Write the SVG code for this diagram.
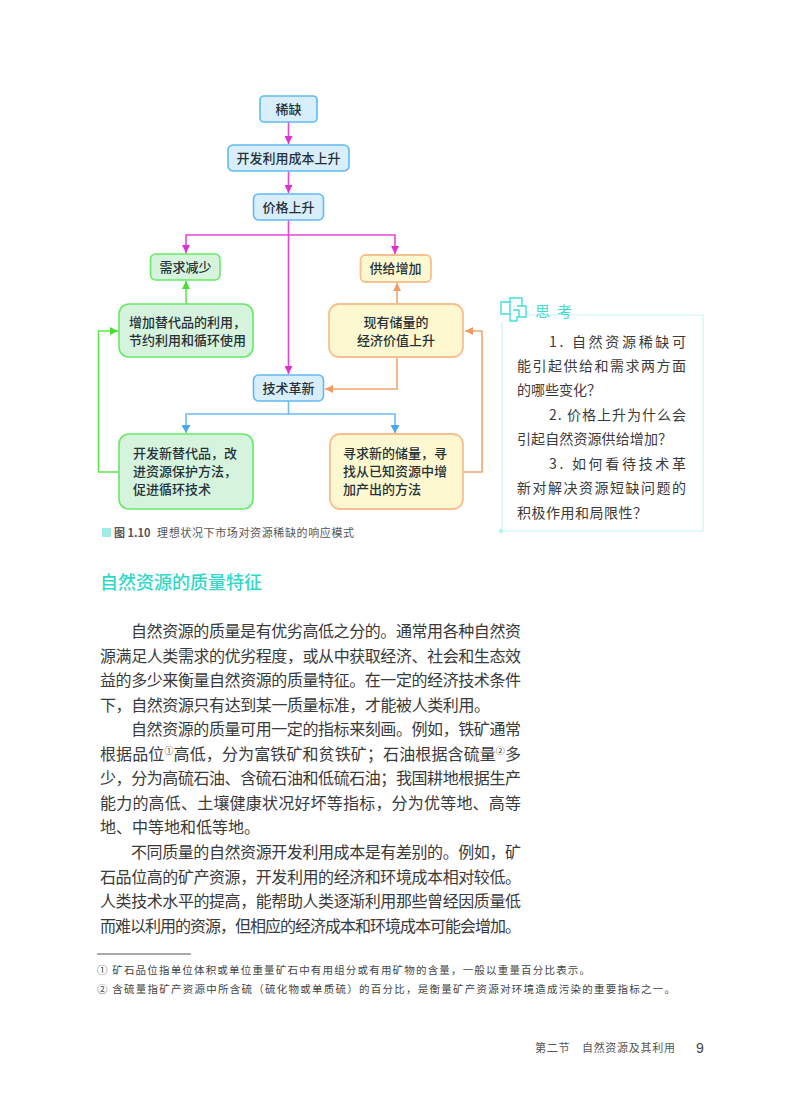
<svg xmlns="http://www.w3.org/2000/svg" width="800" height="1118" viewBox="0 0 800 1118">
<style>
text{font-family:"Noto Sans CJK SC","Noto Sans CJK JP",sans-serif}
.n{font-size:13px;font-weight:500;text-anchor:middle;fill:#263238}
.l{font-size:13px;font-weight:500;fill:#263238}
.b{font-size:16px;fill:#3a3a3a}
.q{font-size:14px;fill:#3a3a3a}
.f{font-size:10.5px;fill:#444}
.cap{font-size:11px;fill:#555}
.pg{font-size:11px;fill:#555}
.head{font-size:18px;font-weight:500;fill:#2fd8c8}
.think{font-size:15px;fill:#3fdcd4}
.blue{fill:#d8eefa;stroke:#5fbaf0;stroke-width:1.6}
.green{fill:#d6f3de;stroke:#66ea66;stroke-width:1.6}
.orange{fill:#fdf8cf;stroke:#f8bf90;stroke-width:1.8}
.c{fill:none;stroke-width:1.6}
.pk{stroke:#e548d8}.gr{stroke:#62e650}.or{stroke:#f5a56e}.bl{stroke:#6cbcf2}
</style>
<defs>
<marker id="ap" markerUnits="userSpaceOnUse" markerWidth="9" markerHeight="8" refX="8" refY="4" orient="auto"><path d="M0 0L8 4L0 8Z" fill="#e030d0"/></marker>
<marker id="ag" markerUnits="userSpaceOnUse" markerWidth="9" markerHeight="8" refX="8" refY="4" orient="auto"><path d="M0 0L8 4L0 8Z" fill="#44e030"/></marker>
<marker id="ao" markerUnits="userSpaceOnUse" markerWidth="9" markerHeight="8" refX="8" refY="4" orient="auto"><path d="M0 0L8 4L0 8Z" fill="#f59a60"/></marker>
<marker id="ab" markerUnits="userSpaceOnUse" markerWidth="9" markerHeight="9" refX="8" refY="4.5" orient="auto"><path d="M0 0L8 4.5L0 9Z" fill="#4aa6ee"/></marker>
</defs>
<rect width="800" height="1118" fill="#fff"/>
<g id="connectors">
<path class="c pk" d="M288.5 122V144" marker-end="url(#ap)"/>
<path class="c pk" d="M288.5 171V193" marker-end="url(#ap)"/>
<path class="c pk" d="M288.5 220V374" marker-end="url(#ap)"/>
<path class="c pk" d="M288.5 235H186V253" marker-end="url(#ap)"/>
<path class="c pk" d="M288.5 235H395V254" marker-end="url(#ap)"/>
<path class="c gr" d="M186 304V281" marker-end="url(#ag)"/>
<path class="c or" d="M397 304V283" marker-end="url(#ao)"/>
<path class="c or" d="M397 357V389H325" marker-end="url(#ao)"/>
<path class="c bl" d="M288.5 401V414H186V433" marker-end="url(#ab)"/>
<path class="c bl" d="M288.5 414H395V433" marker-end="url(#ab)"/>
<path class="c gr" d="M119 472H98.500V331H118" marker-end="url(#ag)"/>
<path class="c or" d="M463 472H482V331H465" marker-end="url(#ao)"/>
</g>
<g id="n1"><rect class="blue" x="260" y="96" width="57" height="26" rx="4"/><text class="n" x="288.500" y="114">稀缺</text></g>
<g id="n2"><rect class="blue" x="228" y="145" width="121" height="26" rx="5"/><text class="n" x="288.500" y="163">开发利用成本上升</text></g>
<g id="n3"><rect class="blue" x="253.500" y="194" width="70" height="26" rx="5"/><text class="n" x="288.500" y="212">价格上升</text></g>
<g id="n4"><rect class="green" x="150.500" y="254" width="69.500" height="26" rx="5"/><text class="n" x="185.500" y="272">需求减少</text></g>
<g id="n5"><rect class="orange" x="360.500" y="255" width="70.500" height="27" rx="5"/><text class="n" x="395.500" y="273">供给增加</text></g>
<g id="n6"><rect class="green" x="119" y="304" width="134" height="53" rx="10"/><text class="l" x="129" y="327">增加替代品的利用，</text><text class="l" x="129" y="345">节约利用和循环使用</text></g>
<g id="n7"><rect class="orange" x="329" y="304" width="134" height="53" rx="10"/><text class="n" x="396" y="327">现有储量的</text><text class="n" x="396" y="345">经济价值上升</text></g>
<g id="n8"><rect class="blue" x="253.500" y="375" width="70" height="26" rx="5"/><text class="n" x="288.500" y="393">技术革新</text></g>
<g id="n9"><rect class="green" x="119" y="434" width="134" height="75" rx="10"/><text class="l" x="133" y="458">开发新替代品，改</text><text class="l" x="133" y="476">进资源保护方法，</text><text class="l" x="133" y="494">促进循环技术</text></g>
<g id="n10"><rect class="orange" x="330" y="434" width="133" height="75" rx="10"/><text class="l" x="343" y="458">寻求新的储量，寻</text><text class="l" x="343" y="476">找从已知资源中增</text><text class="l" x="343" y="494">加产出的方法</text></g>
<rect x="102" y="528" width="9" height="9" fill="#a0ebe4"/>
<text class="cap" x="114" y="537" font-weight="700">图 1.10</text>
<text class="cap" x="157" y="537" textLength="197">理想状况下市场对资源稀缺的响应模式</text>

<path d="M526 315H703V531H502V322" fill="none" stroke="#c8f6f4" stroke-width="1.2"/>
<circle cx="501" cy="531" r="2.500" fill="#c0f4f2"/>
<path d="M510 298H522V306H526V317H517V321H510V314H501V302H510ZM510 302V314M517 306H522M513 310H519V317" fill="none" stroke="#3fe0d8" stroke-width="1.400"/>
<text class="think" x="535" y="317" textLength="37">思 考</text>
<text class="q" x="549" y="347" textLength="137">1. 自然资源稀缺可</text>
<text class="q" x="517" y="371" textLength="169">能引起供给和需求两方面</text>
<text class="q" x="517" y="395">的哪些变化？</text>
<text class="q" x="549" y="420" textLength="137">2. 价格上升为什么会</text>
<text class="q" x="517" y="444" textLength="155">引起自然资源供给增加？</text>
<text class="q" x="549" y="469" textLength="137">3. 如何看待技术革</text>
<text class="q" x="517" y="493" textLength="169">新对解决资源短缺问题的</text>
<text class="q" x="517" y="518" textLength="130">积极作用和局限性？</text>

<text class="head" x="100" y="589" textLength="162">自然资源的质量特征</text>

<text class="b" x="131" y="637" textLength="390">自然资源的质量是有优劣高低之分的。通常用各种自然资</text>
<text class="b" x="100" y="661.500" textLength="421">源满足人类需求的优劣程度，或从中获取经济、社会和生态效</text>
<text class="b" x="100" y="686" textLength="421">益的多少来衡量自然资源的质量特征。在一定的经济技术条件</text>
<text class="b" x="100" y="710.500" textLength="390">下，自然资源只有达到某一质量标准，才能被人类利用。</text>
<text class="b" x="131" y="735" textLength="390">自然资源的质量可用一定的指标来刻画。例如，铁矿通常</text>
<text class="b" x="100" y="759.500" textLength="421">根据品位<tspan font-size="9" dy="-6">①</tspan><tspan dy="6">高低，分为富铁矿和贫铁矿；石油根据含硫量</tspan><tspan font-size="9" dy="-6">②</tspan><tspan dy="6">多</tspan></text>
<text class="b" x="100" y="784" textLength="421">少，分为高硫石油、含硫石油和低硫石油；我国耕地根据生产</text>
<text class="b" x="100" y="808.500" textLength="421">能力的高低、土壤健康状况好坏等指标，分为优等地、高等</text>
<text class="b" x="100" y="833">地、中等地和低等地。</text>
<text class="b" x="131" y="858" textLength="390">不同质量的自然资源开发利用成本是有差别的。例如，矿</text>
<text class="b" x="100" y="882.500" textLength="421">石品位高的矿产资源，开发利用的经济和环境成本相对较低。</text>
<text class="b" x="100" y="907" textLength="421">人类技术水平的提高，能帮助人类逐渐利用那些曾经因质量低</text>
<text class="b" x="100" y="931.500" textLength="421">而难以利用的资源，但相应的经济成本和环境成本可能会增加。</text>

<path d="M97 954H191" stroke="#555" stroke-width="1.200"/>
<text class="f" x="97" y="974" textLength="493">① 矿石品位指单位体积或单位重量矿石中有用组分或有用矿物的含量，一般以重量百分比表示。</text>
<text class="f" x="97" y="993" textLength="578">② 含硫量指矿产资源中所含硫（硫化物或单质硫）的百分比，是衡量矿产资源对环境造成污染的重要指标之一。</text>
<text class="pg" x="535" y="1052" textLength="140">第二节　自然资源及其利用</text>
<text x="696" y="1053" font-size="14" fill="#444" style="font-family:'Liberation Sans',sans-serif">9</text>
</svg>
